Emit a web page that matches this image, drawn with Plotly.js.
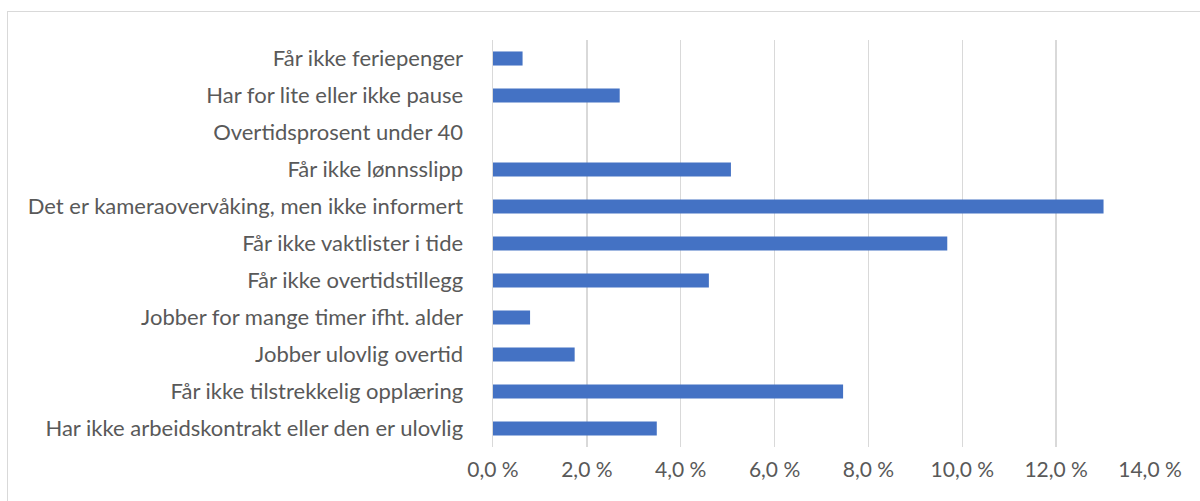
<!DOCTYPE html>
<html>
<head>
<meta charset="utf-8">
<script src="https://cdn.plot.ly/plotly-3.0.1.min.js"></script>
<style>
  html, body { margin: 0; padding: 0; background: #fff; }
  #wrap { position: relative; width: 1200px; height: 501px; overflow: hidden; }
  #frame { position: absolute; left: 7px; top: 11px; width: 1220px; height: 520px; border: 1px solid #d9d9d9; box-sizing: border-box; }
  #chart { position: absolute; left: 0; top: 0; width: 1200px; height: 501px; }
</style>
</head>
<body>
<div id="wrap">
  <div id="frame"></div>
  <div id="chart"></div>
</div>
<script>
const categories = [
  "Får ikke feriepenger",
  "Har for lite eller ikke pause",
  "Overtidsprosent under 40",
  "Får ikke lønnsslipp",
  "Det er kameraovervåking, men ikke informert",
  "Får ikke vaktlister i tide",
  "Får ikke overtidstillegg",
  "Jobber for mange timer ifht. alder",
  "Jobber ulovlig overtid",
  "Får ikke tilstrekkelig opplæring",
  "Har ikke arbeidskontrakt eller den er ulovlig"
];
const values = [0.63, 2.70, 0, 5.07, 13.01, 9.68, 4.60, 0.79, 1.74, 7.46, 3.49];
const tickVals = [0, 2, 4, 6, 8, 10, 12, 14];
const tickText = ["0,0 %", "2,0 %", "4,0 %", "6,0 %", "8,0 %", "10,0 %", "12,0 %", "14,0 %"];

const font = "Lato, 'Open Sans', sans-serif";
const trace = {
  type: "bar",
  orientation: "h",
  y: categories,
  x: values,
  marker: { color: "#4472C4" },
  hoverinfo: "x+y"
};
const layout = {
  width: 1200, height: 501,
  margin: { l: 493, r: 50, t: 40, b: 54, pad: 0 },
  paper_bgcolor: "rgba(0,0,0,0)",
  plot_bgcolor: "rgba(0,0,0,0)",
  bargap: 0.62,
  showlegend: false,
  font: { family: font, size: 22, color: "#595959" },
  xaxis: {
    range: [0, 14],
    tickvals: tickVals,
    ticktext: tickText,
    showgrid: true,
    gridcolor: "#d9d9d9",
    gridwidth: 1.5,
    zeroline: false,
    showline: false,
    ticks: "",
    ticklabelstandoff: 8,
    tickfont: { family: font, size: 21, color: "#595959" },
    fixedrange: true
  },
  yaxis: {
    autorange: "reversed",
    showgrid: false,
    zeroline: false,
    showline: true,
    linecolor: "#d9d9d9",
    linewidth: 1.5,
    ticks: "",
    ticklabelstandoff: 24,
    tickfont: { family: font, size: 22, color: "#595959" },
    fixedrange: true
  }
};
Plotly.newPlot("chart", [trace], layout, { displayModeBar: false, staticPlot: true });
</script>
</body>
</html>
